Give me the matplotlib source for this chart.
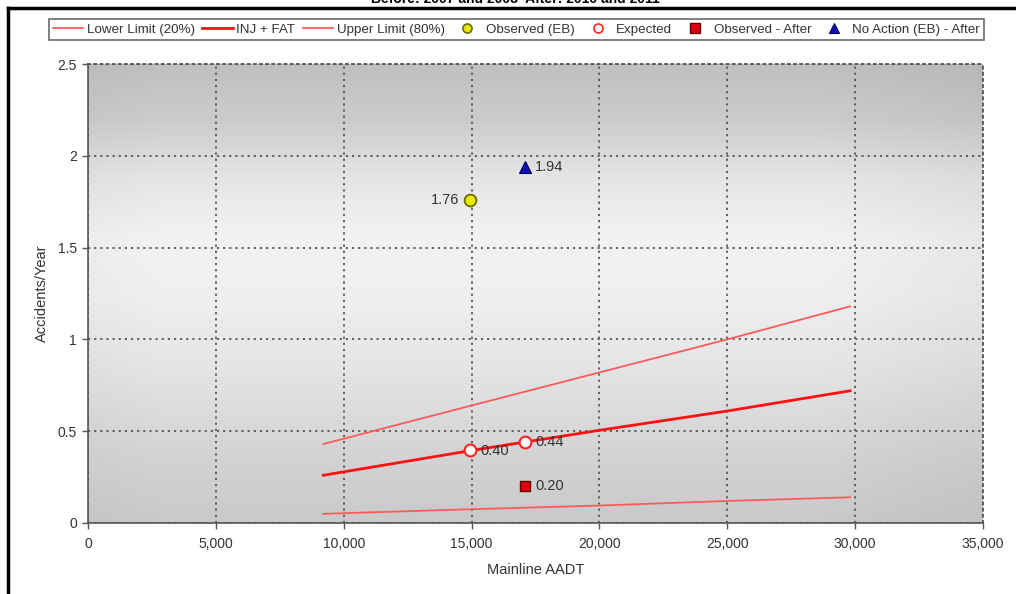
import numpy as np
import matplotlib
matplotlib.use("Agg")
import matplotlib.pyplot as plt
from matplotlib.lines import Line2D

plt.rcParams['font.family'] = ['Liberation Sans', 'DejaVu Sans']

# Safety performance curves (accidents/year vs. mainline AADT)
curve_aadt = [9200, 15000, 20000, 25000, 29800]
lower_limit = [0.05, 0.075, 0.095, 0.12, 0.14]
inj_fat = [0.26, 0.395, 0.505, 0.61, 0.72]
upper_limit = [0.43, 0.64, 0.82, 1.00, 1.18]

# Site points
before_aadt = 14950
after_aadt = 17100
observed_eb = 1.76
expected = [0.40, 0.44]
expected_aadt = [before_aadt, after_aadt]
observed_after = 0.20
no_action_after = 1.94

x_ticks = [0, 5000, 10000, 15000, 20000, 25000, 30000, 35000]
y_ticks = [0, 0.5, 1, 1.5, 2, 2.5]

W, H = 1016, 594
fig = plt.figure(figsize=(W / 100, H / 100), dpi=100)
ax = fig.add_axes([88 / W, 1 - 523 / H, (983 - 88) / W, (523 - 64) / H])

ax.set_xlim(0, 35000)
ax.set_ylim(0, 2.5)

# gradient plot background
prof_y = np.array([0.0, 0.15, 0.35, 0.5, 0.62, 0.75, 0.88, 1.0])
prof_v = np.array([0.79, 0.83, 0.90, 0.94, 0.95, 0.90, 0.80, 0.75])
yy = np.linspace(0, 1, 300)
vals = np.interp(yy, prof_y, prof_v)
xx = np.linspace(0, 1, 200)
hx = 1 - 0.04 * np.clip((xx - 0.82) / 0.18, 0, 1) - 0.02 * np.clip((0.08 - xx) / 0.08, 0, 1)
img = np.outer(vals, hx)
rgb = np.dstack([img, img, img])
ax.imshow(rgb, extent=[0, 35000, 0, 2.5], origin='lower', aspect='auto', zorder=0,
          interpolation='bilinear')

ax.set_xticks(x_ticks)
ax.set_xticklabels([f"{v:,}" for v in x_ticks])
ax.set_yticks(y_ticks)
ax.set_yticklabels(["0", "0.5", "1", "1.5", "2", "2.5"])
ax.tick_params(direction='out', length=4, width=1, colors='#555555', labelsize=10,
               labelcolor='#333333')
ax.tick_params(axis='x', pad=6)
ax.tick_params(axis='y', pad=4)
ax.grid(True, color='#555555', linestyle=(0, (1.2, 2.2)), linewidth=1.3, zorder=1)
for side in ['left', 'bottom']:
    ax.spines[side].set_color('#555555')
    ax.spines[side].set_linewidth(1.2)
for side in ['top', 'right']:
    ax.spines[side].set_color('#555555')
    ax.spines[side].set_linestyle((0, (1.2, 2.2)))
    ax.spines[side].set_linewidth(1.3)

ax.set_xlabel("Mainline AADT", fontsize=10.5, color='#333333', labelpad=9)
ax.set_ylabel("Accidents/Year", fontsize=10.5, color='#333333', labelpad=6)

thin_red = '#ff5a5a'
ax.plot(curve_aadt, lower_limit, color=thin_red, lw=1.3, zorder=3)
ax.plot(curve_aadt, inj_fat, color='#ff1010', lw=2.0, zorder=3)
ax.plot(curve_aadt, upper_limit, color=thin_red, lw=1.3, zorder=3)

ax.plot([before_aadt], [observed_eb], 'o', ms=8.5, mfc='#e8e800', mec='#6a6a00', mew=1.3, zorder=5)
ax.plot(expected_aadt, expected, 'o', ms=8.5, mfc='white', mec='#ff2020', mew=1.5, zorder=5)
ax.plot([after_aadt], [observed_after], 's', ms=7.5, mfc='#e00010', mec='#600000', mew=1.0, zorder=5)
ax.plot([after_aadt], [no_action_after], '^', ms=8, mfc='#1010b0', mec='#000060', mew=0.8, zorder=5)

lab_kw = dict(fontsize=10.5, color='#333333', zorder=6)
ax.annotate(f"{observed_eb:.2f}", (before_aadt, observed_eb), xytext=(-8, 0),
            textcoords='offset points', ha='right', va='center', **lab_kw)
ax.annotate(f"{no_action_after:.2f}", (after_aadt, no_action_after), xytext=(7, 0),
            textcoords='offset points', ha='left', va='center', **lab_kw)
ax.annotate(f"{expected[0]:.2f}", (expected_aadt[0], expected[0]), xytext=(7, -1),
            textcoords='offset points', ha='left', va='center', **lab_kw)
ax.annotate(f"{expected[1]:.2f}", (expected_aadt[1], expected[1]), xytext=(7, 0),
            textcoords='offset points', ha='left', va='center', **lab_kw)
ax.annotate(f"{observed_after:.2f}", (after_aadt, observed_after), xytext=(7, 0),
            textcoords='offset points', ha='left', va='center', **lab_kw)

handles = [
    Line2D([], [], color=thin_red, lw=1.3),
    Line2D([], [], color='#ff1010', lw=2.0),
    Line2D([], [], color=thin_red, lw=1.3),
    Line2D([], [], ls='', marker='o', ms=6.5, mfc='#e8e800', mec='#6a6a00', mew=1.2),
    Line2D([], [], ls='', marker='o', ms=6.5, mfc='white', mec='#ff2020', mew=1.2),
    Line2D([], [], ls='', marker='s', ms=6.5, mfc='#e00010', mec='#600000', mew=1.0),
    Line2D([], [], ls='', marker='^', ms=6.5, mfc='#1010b0', mec='#000060', mew=0.8),
]
labels = ["Lower Limit (20%)", "INJ + FAT", "Upper Limit (80%)", "Observed (EB)",
          "Expected", "Observed - After", "No Action (EB) - After"]
leg = fig.legend(handles, labels, loc='center', bbox_to_anchor=(516.5 / W, 1 - 29.5 / H),
                 ncol=7, fontsize=9.6, frameon=True, fancybox=False, handlelength=2.3,
                 handletextpad=0.25, columnspacing=0.55, borderpad=0.3, labelcolor='#333333')
leg.get_frame().set_edgecolor('#444444')
leg.get_frame().set_linewidth(1.2)

# outer frame
fig.add_artist(Line2D([8 / W, 8 / W], [0, 1 - 8 / H], color='black', lw=2.5,
                      transform=fig.transFigure))
fig.add_artist(Line2D([8 / W, 1], [1 - 8 / H, 1 - 8 / H], color='black', lw=2.5,
                      transform=fig.transFigure))

fig.text(515 / W, 1 + 1 / H, "Before: 2007 and 2008  After: 2010 and 2011", ha='center',
         va='center', fontsize=10, fontweight='bold', color='black')

fig.savefig("out.png", dpi=100)
